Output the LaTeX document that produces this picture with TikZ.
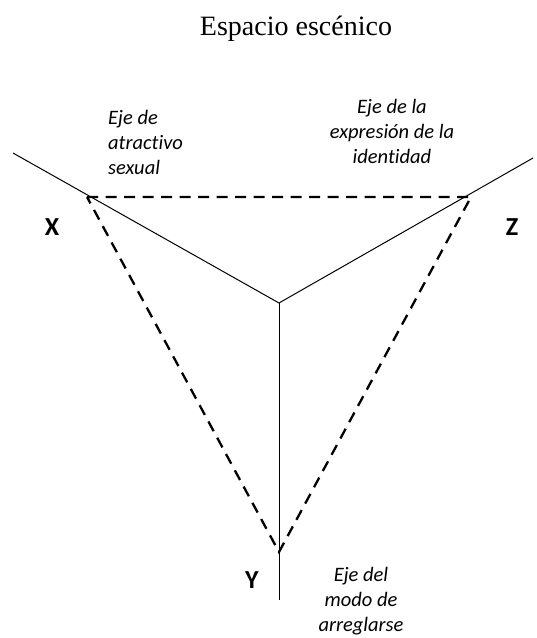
\documentclass[tikz,border=0pt]{standalone}
\usepackage{fontspec}
\setmainfont{Liberation Serif}
\newfontfamily\calibri[Ligatures=NoCommon]{Carlito}
\begin{document}
\begin{tikzpicture}[x=1pt,y=-1pt,
  axis/.style={line width=1pt,black},
  tri/.style={line width=2.3pt,dash pattern=on 11pt off 7.5pt},
  axlabel/.style={font=\calibri\itshape\fontsize{20.5}{25}\selectfont,inner sep=0pt},
  vlabel/.style={font=\calibri\bfseries\fontsize{26}{28}\selectfont,inner sep=0pt}]
\useasboundingbox (0,0) rectangle (537,638);
\node[font=\fontsize{28}{30}\selectfont,inner sep=0pt] (title) at (296,29) {Espacio escénico};
\coordinate (O) at (279,303);
\coordinate (L) at (13,153);
\coordinate (R) at (533,158);
\coordinate (B) at (279,600);
\coordinate (X) at (87,197);
\coordinate (Z) at (471,197);
\coordinate (Y) at (279,552);
\draw[axis] (L) -- (O) -- (R);
\draw[axis] (O) -- (B);
\draw[tri] (X) -- (Z) -- (Y) -- cycle;
\node[vlabel] (xl) at (52,227) {X};
\node[vlabel] (zl) at (512,227) {Z};
\node[vlabel] (yl) at (252,580) {Y};
\node[axlabel,align=left,anchor=west] (ax) at (108,142) {Eje de\\atractivo\\sexual};
\node[axlabel,align=center] (az) at (392,131) {Eje de la\\expresión de la\\identidad};
\node[axlabel,align=center] (ay) at (361,601) {Eje del\\modo de\\arreglarse};
\end{tikzpicture}
\end{document}
